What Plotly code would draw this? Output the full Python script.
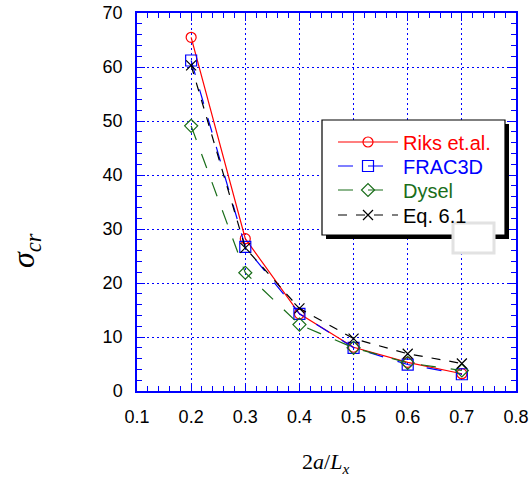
import plotly.graph_objects as go

# values
ratio = [0.2, 0.3, 0.4, 0.5, 0.6, 0.7]
riks = [65.5, 28.2, 14.3, 8.1, 5.3, 3.2]
frac3d = [61.2, 26.7, 14.3, 8.0, 4.9, 3.1]
dysel = [49.1, 21.9, 12.3, 8.0, 5.2, 3.8]
eq61 = [60.3, 26.5, 15.3, 9.7, 6.9, 5.1]

series = [
    ("Riks et.al.", riks, "#ff0000", "solid", "circle-open", 10),
    ("FRAC3D", frac3d, "#0000ff", "longdash", "square-open", 11),
    ("Dysel", dysel, "#1a6e1a", "longdash", "diamond-open", 10),
    ("Eq. 6.1", eq61, "#000000", "dash", "x-thin-open", 10),
]

BLUE = "#0000ff"
W, H = 531, 481
FONT = "Liberation Sans, Arial, sans-serif"
SERIF = "Liberation Serif, Times New Roman, serif"

ml, mr, mt, mb = 137, 15, 13, 90


def px_x(p):
    return (p - ml) / (W - ml - mr)


def px_y(p):
    return 1 - (p - mt) / (H - mt - mb)


# one legend per entry so the rows sit where the reference has them
legend_rows = [142, 166, 190, 215]

fig = go.Figure()
legends = {}
for i, (name, vals, color, dash, symbol, size) in enumerate(series):
    key = "legend" if i == 0 else f"legend{i + 1}"
    fig.add_trace(
        go.Scatter(
            x=ratio, y=vals, mode="lines+markers",
            name=f'<span style="color:{color}">{name}</span>',
            legend=key,
            line=dict(color=color, width=1.2, dash=dash),
            marker=dict(symbol=symbol, size=size, color=color, line=dict(color=color, width=1.2)),
        )
    )
    legends[key] = dict(
        x=px_x(333), y=px_y(legend_rows[i]), xanchor="left", yanchor="middle",
        bgcolor="rgba(0,0,0,0)", borderwidth=0,
        font=dict(family=FONT, size=20),
        itemwidth=60,
    )

axis_common = dict(
    showline=True, linecolor=BLUE, linewidth=1.5, mirror="ticks",
    ticks="inside", ticklen=8, tickcolor=BLUE, tickwidth=1,
    showgrid=True, gridcolor=BLUE, griddash="2px,3px", gridwidth=1.3,
    zeroline=False, automargin=False,
    tickfont=dict(family=FONT, size=18, color="black"),
    ticklabelstandoff=9,
)
fig.update_xaxes(
    range=[0.1, 0.8], dtick=0.1, tickformat=".1f",
    minor=dict(dtick=0.02, ticks="inside", ticklen=5, tickcolor=BLUE, showgrid=False),
    **axis_common,
)
fig.update_yaxes(
    range=[0, 70], dtick=10,
    minor=dict(dtick=2, ticks="inside", ticklen=5, tickcolor=BLUE, showgrid=False),
    **axis_common,
)

shapes = [
    # legend shadow + box
    dict(type="rect", xref="paper", yref="paper", x0=px_x(326), x1=px_x(509), y0=px_y(239), y1=px_y(124),
         fillcolor="black", line=dict(width=0), layer="above"),
    dict(type="rect", xref="paper", yref="paper", x0=px_x(322), x1=px_x(505), y0=px_y(235), y1=px_y(120),
         fillcolor="white", line=dict(color="black", width=1.2), layer="above"),
    # light grey box overlay
    dict(type="rect", xref="paper", yref="paper", x0=px_x(453), x1=px_x(494), y0=px_y(253), y1=px_y(223),
         fillcolor="white", line=dict(color="#e2e2e2", width=3), layer="above"),
]

fig.update_layout(
    width=W, height=H,
    margin=dict(l=ml, r=mr, t=mt, b=mb),
    plot_bgcolor="white", paper_bgcolor="white",
    shapes=shapes,
    showlegend=True,
    **legends,
    annotations=[
        dict(text="<i>σ</i><sub><i>cr</i></sub>", xref="paper", yref="paper",
             x=px_x(25), y=px_y(251), xanchor="center", yanchor="middle",
             showarrow=False, textangle=-90,
             font=dict(family=SERIF, size=32, color="black")),
        dict(text="2<i>a</i>/<i>L</i><sub><i>x</i></sub>", xref="paper", yref="paper",
             x=px_x(325), y=px_y(463), xanchor="center", yanchor="middle", showarrow=False,
             font=dict(family=SERIF, size=22, color="black")),
    ],
)

fig.write_html(
    "out.html",
    config={"displayModeBar": False},
    post_script="document.body.style.margin='0';",
)
